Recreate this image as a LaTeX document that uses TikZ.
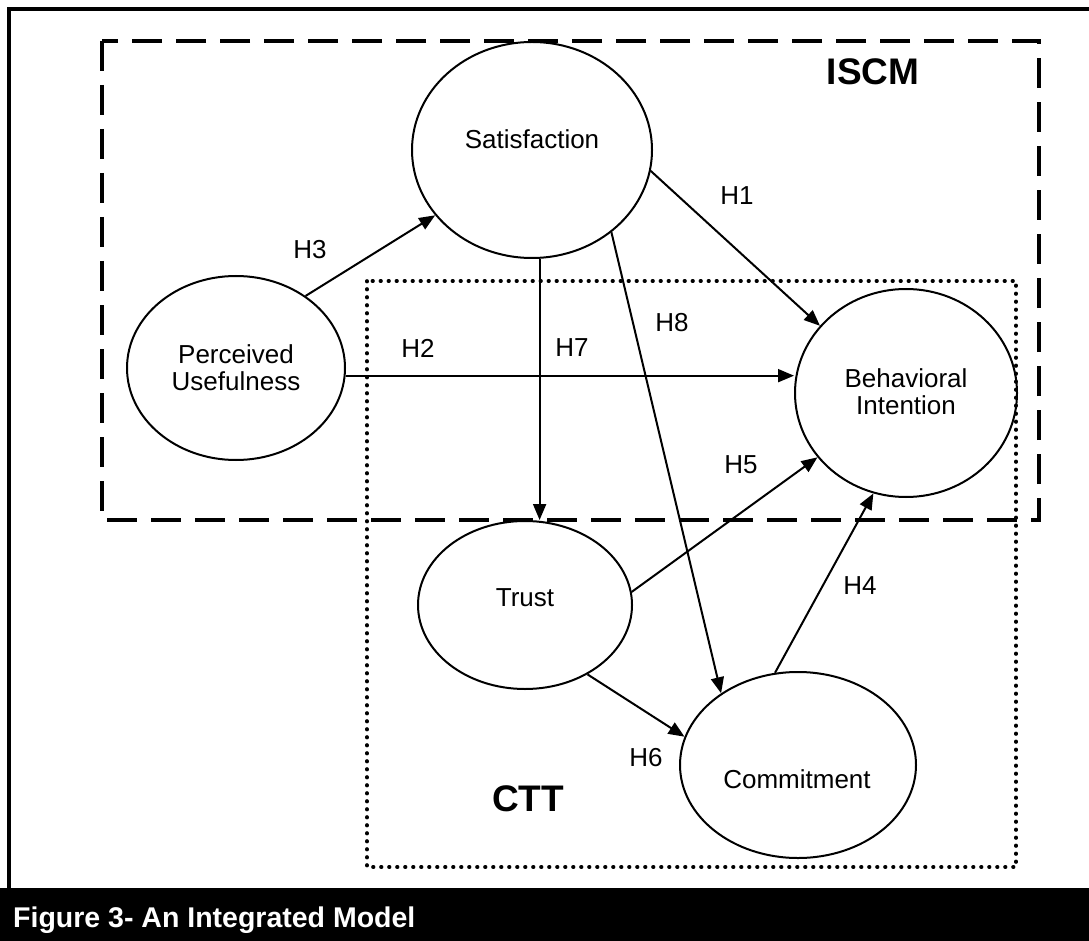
\documentclass[tikz,border=0pt]{standalone}
\usepackage{fontspec}
\setmainfont{Liberation Sans}
\usetikzlibrary{shapes.geometric,arrows.meta}
\tikzset{
  ell/.style={ellipse, draw, line width=2pt, inner sep=0pt},
  lbl/.style={inner sep=0pt, font=\fontsize{26}{31}\selectfont},
  txt/.style={inner sep=0pt, align=center, font=\fontsize{26}{27}\selectfont},
  big/.style={inner sep=0pt, font=\fontsize{37}{40}\selectfont\bfseries},
  arr/.style={line width=2pt, -{Triangle[length=16pt,width=13pt]}},
  iscmbox/.style={line width=4pt, dash pattern=on 30pt off 14pt},
  cttbox/.style={line width=3.6pt, line cap=round, dash pattern=on 0.6pt off 7.4pt}
}
\begin{document}
\begin{tikzpicture}[x=1pt,y=-1pt]
\useasboundingbox (0,0) rectangle (1089,941);
% outer frame
\draw[line width=3.3pt] (9,889) -- (9,9) -- (1089,9);
% caption bar
\fill[black] (0,888) rectangle (1089,941);
\node[anchor=base west, inner sep=0pt, text=white, font=\fontsize{28.5}{30}\selectfont\bfseries] (cap) at (13,927) {Figure 3- An Integrated Model};
% group boxes
\draw[iscmbox] (102,41) rectangle (1039,520);
\draw[cttbox] (367,281) rectangle (1016,867);
\node[big] (iscm) at (873,72) {ISCM};
\node[big] (ctt) at (528,799) {CTT};
% constructs
\node[ell, minimum width=240pt, minimum height=216pt] (sat) at (532,150) {};
\node[txt] at (532,139) {Satisfaction};
\node[ell, minimum width=218pt, minimum height=184pt] (pu) at (236,368) {};
\node[txt] at (236,368) {Perceived\\Usefulness};
\node[ell, minimum width=222pt, minimum height=208pt] (bi) at (906,393) {};
\node[txt] at (906,392) {Behavioral\\Intention};
\node[ell, minimum width=214pt, minimum height=168pt] (trust) at (525,605) {};
\node[txt] at (525,598) {Trust};
\node[ell, minimum width=236pt, minimum height=186pt] (com) at (798,765) {};
\node[txt] at (797,779) {Commitment};
% paths
\draw[arr] (pu.46) -- (sat.214);
\draw[arr] (sat.-10) -- (bi.142);
\draw[arr] (pu.-4) -- (pu.-4 -| bi.west);
\draw[arr] (sat.274) -- (sat.274 |- trust.north);
\draw[arr] (sat.-46) -- (com.137);
\draw[arr] (trust.7) -- (bi.216);
\draw[arr] (com.104) -- (bi.252);
\draw[arr] (trust.-48) -- (com.166);
% labels
\node[lbl] at (310,250) {H3};
\node[lbl] at (737,196) {H1};
\node[lbl] at (418,348) {H2};
\node[lbl] at (572,348) {H7};
\node[lbl] at (672,323) {H8};
\node[lbl] at (741,465) {H5};
\node[lbl] at (860,586) {H4};
\node[lbl] at (646,758) {H6};
\end{tikzpicture}
\end{document}
